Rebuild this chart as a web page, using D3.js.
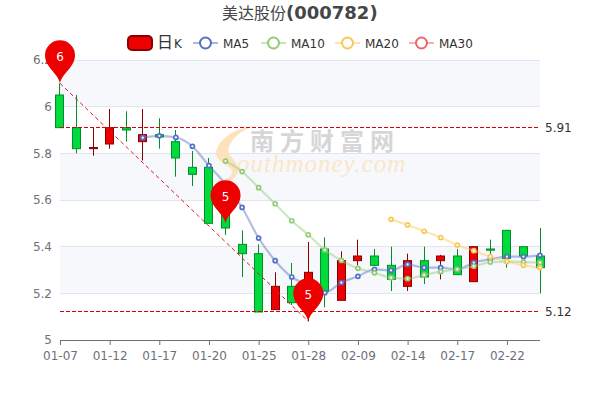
<!DOCTYPE html>
<html>
<head>
<meta charset="utf-8">
<script src="https://cdn.jsdelivr.net/npm/d3@7"></script>
<style>
    html, body { margin: 0; padding: 0; background: #fff; }
    text { font-family: "DejaVu Sans", "Noto Sans CJK SC", sans-serif; }
</style>
</head>
<body>
<div id="chart"></div>
<script>
const dates = ["01-07","01-08","01-11","01-12","01-13","01-16","01-17","01-18","01-19","01-20",
    "01-21","01-22","01-25","01-26","01-27","01-28","01-29","02-08","02-09","02-10",
    "02-11","02-14","02-15","02-16","02-17","02-18","02-21","02-22","02-23","02-24"];
const tickDates = ["01-07","01-12","01-17","01-20","01-25","01-28","02-09","02-14","02-17","02-22"];
const yTicks = [5, 5.2, 5.4, 5.6, 5.8, 6, 6.2];

const opens  = [6.05,5.91,5.82,5.84,5.91,5.85,5.88,5.85,5.74,5.74,5.56,5.41,5.37,5.13,5.23,5.17,5.39,5.17,5.34,5.36,5.32,5.23,5.34,5.34,5.36,5.25,5.39,5.47,5.40,5.36];
const closes = [5.91,5.82,5.825,5.91,5.90,5.88,5.87,5.78,5.71,5.50,5.48,5.37,5.12,5.23,5.16,5.29,5.21,5.34,5.36,5.32,5.26,5.34,5.27,5.36,5.28,5.40,5.385,5.35,5.36,5.31];
const lows   = [5.91,5.80,5.79,5.82,5.85,5.77,5.82,5.70,5.66,5.50,5.45,5.27,5.12,5.13,5.15,5.08,5.14,5.17,5.32,5.32,5.21,5.21,5.24,5.26,5.28,5.25,5.34,5.31,5.35,5.20];
const highs  = [6.10,6.05,5.91,5.99,5.98,5.99,5.95,5.90,5.81,5.78,5.60,5.47,5.41,5.29,5.33,5.42,5.44,5.38,5.43,5.39,5.40,5.37,5.40,5.365,5.39,5.40,5.43,5.47,5.40,5.48];

const ma5 = [null,null,null,null,null,5.867,5.875,5.868,5.83,5.747,5.669,5.568,5.437,5.34,5.27,5.235,5.203,5.246,5.273,5.303,5.298,5.324,5.31,5.31,5.303,5.332,5.346,5.357,5.357,5.363];
const ma10 = [null,null,null,null,null,null,null,null,null,null,5.767,5.722,5.653,5.584,5.511,5.451,5.386,5.341,5.307,5.288,5.267,5.263,5.279,5.293,5.303,5.316,5.334,5.336,5.334,5.332];
const ma20 = [null,null,null,null,null,null,null,null,null,null,null,null,null,null,null,null,null,null,null,null,5.517,5.493,5.466,5.439,5.407,5.383,5.357,5.337,5.32,5.31];
const ma30 = dates.map(() => null);

const lineNames = ["MA5", "MA10", "MA20", "MA30"];
const lineColors = ["#5470c6", "#91cc75", "#fac858", "#ee6666"];
const lineValues = [ma5, ma10, ma20, ma30];

const minMaxPrices = [5.91, 5.12];
const pinValues = [6.10, 5.50, 5.08];
const pinDates = ["01-07", "01-21", "01-28"];
const pinLabels = ["6", "5", "5"];

const upColor = "#ec0000", upBorder = "#8a0000";
const downColor = "#00da3c", downBorder = "#008f28";

const margins = { top: 60, right: 60, bottom: 60, left: 60 };
const width = 600 - margins.left - margins.right;
const height = 400 - margins.top - margins.bottom;

const svg = d3.select("#chart").append("svg")
    .attr("width", 600)
    .attr("height", 400)
    .style("display", "block");

const xScale = d3.scalePoint().domain(dates).range([0, width]);
const yScale = d3.scaleLinear().domain([5, 6.2]).range([height, 0]);

// title, the cjk part renders lighter and smaller than the code
const title = svg.append("text")
    .attr("x", 222).attr("y", 19)
    .attr("fill", "#464646");
title.append("tspan")
    .attr("font-size", 16)
    .text("美达股份");
title.append("tspan")
    .attr("font-size", 18)
    .attr("font-weight", "bold")
    .text("(000782)");

const g = svg.append("g").attr("transform", `translate(${margins.left}, ${margins.top})`);

// split area
yTicks.slice(0, -1).forEach((t, i) => {
    const next = yTicks[i + 1];
    g.append("rect")
        .attr("x", 0).attr("width", width)
        .attr("y", yScale(next))
        .attr("height", yScale(t) - yScale(next))
        .attr("fill", i % 2 === 0 ? "#ffffff" : "#f6f8fc");
});

const yAxis = d3.axisLeft(yScale).tickValues(yTicks).tickSize(0).tickPadding(8)
    .tickFormat(d => d3.format("~g")(d));
const yAxisG = g.append("g").attr("class", "y-axis").call(yAxis);
yAxisG.select(".domain").remove();
yAxisG.selectAll("text").attr("fill", "#6e7079").attr("font-size", 12)
    .style("font-family", '"DejaVu Sans"');

g.append("g").selectAll("line").data(yTicks.slice(1)).join("line")
    .attr("x1", 0).attr("x2", width)
    .attr("y1", d => Math.floor(yScale(d)) + 0.5)
    .attr("y2", d => Math.floor(yScale(d)) + 0.5)
    .attr("stroke", "#e0e6f1");

// watermark
const mark = g.append("g").attr("transform", "translate(-60, -60)");
mark.append("path")
    .attr("d", "M252 127 C234 128 218 140 216 152 C215 163 232 165 232 172 C232 178 222 182 212 182 C226 186 240 178 238 168 C236 158 226 156 229 147 C232 138 242 130 252 127 Z")
    .attr("fill", "#fde3bd");
mark.append("text")
    .attr("x", 250).attr("y", 150)
    .attr("font-size", 24).attr("font-weight", "bold")
    .attr("fill", "#d6d6d6")
    .attr("letter-spacing", 6)
    .text("南方财富网");
mark.append("text")
    .attr("x", 237).attr("y", 172)
    .attr("font-size", 25).attr("font-style", "italic")
    .attr("fill", "#fbe6c8")
    .style("font-family", '"Liberation Serif"')
    .attr("letter-spacing", 1)
    .text("outhmoney.com");

const xAxis = d3.axisBottom(xScale).tickValues(tickDates).tickSize(5).tickPadding(6);
const xAxisG = g.append("g").attr("class", "x-axis")
    .attr("transform", `translate(0, ${height})`)
    .call(xAxis);
xAxisG.select(".domain").attr("stroke", "#6e7079").attr("d", `M0.5,0.5H${width}`);
xAxisG.selectAll(".tick line").attr("stroke", "#6e7079");
xAxisG.selectAll("text").attr("fill", "#6e7079").attr("font-size", 12)
    .style("font-family", '"DejaVu Sans"');

// candlesticks
const candleData = dates.map((d, i) => ({ date: d, open: opens[i], close: closes[i], low: lows[i], high: highs[i] }));
const bodyWidth = 8;
const candles = g.append("g").attr("class", "candles")
    .selectAll("g").data(candleData).join("g")
    .attr("transform", d => `translate(${Math.floor(xScale(d.date))}, 0)`);

candles.append("line")
    .attr("x1", 0.5).attr("x2", 0.5)
    .attr("y1", d => yScale(d.high))
    .attr("y2", d => yScale(d.low))
    .attr("stroke", d => d.close >= d.open ? upBorder : downBorder);

candles.append("rect")
    .attr("x", 0.5 - bodyWidth / 2)
    .attr("width", bodyWidth)
    .attr("y", d => yScale(Math.max(d.open, d.close)))
    .attr("height", d => Math.abs(yScale(d.open) - yScale(d.close)))
    .attr("fill", d => d.close >= d.open ? upColor : downColor)
    .attr("stroke", d => d.close >= d.open ? upBorder : downBorder);

// moving averages
const maLine = d3.line()
    .defined(d => d.value !== null)
    .x(d => xScale(d.date))
    .y(d => yScale(d.value))
    .curve(d3.curveMonotoneX);

lineValues.forEach((values, i) => {
    const points = dates.map((d, j) => ({ date: d, value: values[j] }));
    g.append("path")
        .datum(points)
        .attr("fill", "none")
        .attr("stroke", lineColors[i])
        .attr("stroke-width", 2.2)
        .attr("stroke-opacity", 0.45)
        .attr("d", maLine);
    g.append("g").selectAll("circle")
        .data(points.filter(p => p.value !== null))
        .join("circle")
        .attr("cx", d => xScale(d.date))
        .attr("cy", d => yScale(d.value))
        .attr("r", 2)
        .attr("fill", "#fff")
        .attr("stroke", lineColors[i])
        .attr("stroke-width", 1.7);
});

// mark lines
g.append("g").selectAll("line").data(minMaxPrices).join("line")
    .attr("x1", 0).attr("x2", width)
    .attr("y1", d => Math.floor(yScale(d)) + 0.5)
    .attr("y2", d => Math.floor(yScale(d)) + 0.5)
    .attr("stroke", "#d80000")
    .attr("stroke-dasharray", "4,2");

g.append("g").selectAll("text").data(minMaxPrices).join("text")
    .attr("x", width + 5)
    .attr("y", d => yScale(d) + 4)
    .attr("font-size", 12)
    .attr("fill", "#333")
    .text(d => d3.format(".2f")(d));

g.append("line")
    .attr("x1", xScale(pinDates[0])).attr("y1", yScale(pinValues[0]))
    .attr("x2", xScale(pinDates[2])).attr("y2", yScale(pinValues[2]))
    .attr("stroke", "#dc1c24")
    .attr("stroke-dasharray", "4,3");

// pins
const pinPath = "M0,0 C-2,-10 -15,-16 -15,-28 A15,15 0 1 1 15,-28 C15,-16 2,-10 0,0 Z";
const pins = g.append("g").selectAll("g").data(pinDates).join("g")
    .attr("transform", (d, i) => `translate(${xScale(d)}, ${yScale(pinValues[i])})`);
pins.append("path").attr("d", pinPath).attr("fill", "#ec0000");
pins.append("text")
    .attr("y", -22)
    .attr("text-anchor", "middle")
    .attr("font-size", 12)
    .attr("fill", "#fff")
    .text((d, i) => pinLabels[i]);

// legend
const legend = svg.append("g").attr("class", "legend");
const legendRow = 43;
legend.append("rect")
    .attr("x", 128).attr("y", 36)
    .attr("width", 24).attr("height", 14)
    .attr("rx", 4)
    .attr("fill", upColor)
    .attr("stroke", upBorder)
    .attr("stroke-width", 2);
legend.append("text")
    .attr("x", 157).attr("y", legendRow + 4.5)
    .attr("font-size", 16).attr("fill", "#333")
    .text("日");
legend.append("text")
    .attr("x", 174).attr("y", legendRow + 4.5)
    .attr("font-size", 12).attr("fill", "#333")
    .text("K");

const legendX = [193, 261, 335, 409];
lineNames.forEach((name, i) => {
    const lg = legend.append("g").attr("transform", `translate(${legendX[i]}, ${legendRow})`);
    lg.append("line")
        .attr("x1", 0).attr("x2", 25)
        .attr("stroke", lineColors[i])
        .attr("stroke-width", 2)
        .attr("stroke-opacity", 0.5);
    lg.append("circle")
        .attr("cx", 12.5).attr("r", 5.5)
        .attr("fill", "#fff")
        .attr("stroke", lineColors[i])
        .attr("stroke-width", 2);
    lg.append("text")
        .attr("x", 30).attr("y", 4.5)
        .attr("font-size", 12).attr("fill", "#333")
        .text(name);
});
</script>
</body>
</html>
